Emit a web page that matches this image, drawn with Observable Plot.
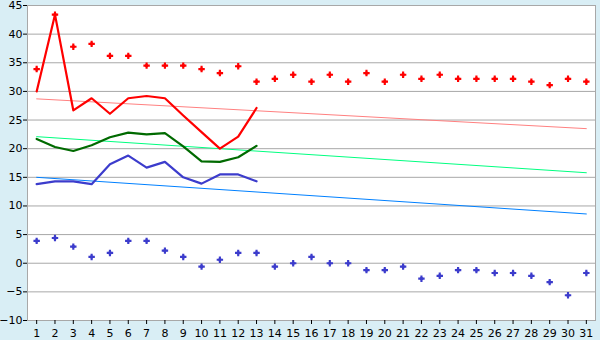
<!DOCTYPE html>
<html>
<head>
<meta charset="utf-8">
<script src="https://cdn.jsdelivr.net/npm/d3@7"></script>
<script src="https://cdn.jsdelivr.net/npm/@observablehq/plot@0.6"></script>
<style>
  html, body { margin: 0; padding: 0; background: #d9eef5; }
  #chart svg { display: block; background: transparent; }
</style>
</head>
<body>
<div id="chart"></div>
<script>
const days = [1,2,3,4,5,6,7,8,9,10,11,12,13,14,15,16,17,18,19,20,21,22,23,24,25,26,27,28,29,30,31];
const maxTemp = [33.9,43.4,37.8,38.3,36.2,36.2,34.5,34.5,34.5,33.9,33.2,34.4,31.7,32.2,32.9,31.7,32.9,31.7,33.2,31.7,32.9,32.2,32.9,32.2,32.2,32.2,32.2,31.7,31.1,32.2,31.7];
const minTemp = [3.9,4.4,2.9,1.1,1.8,3.9,3.9,2.2,1.1,-0.6,0.6,1.8,1.8,-0.6,0.0,1.1,0.0,0.0,-1.2,-1.2,-0.6,-2.7,-2.2,-1.2,-1.2,-1.7,-1.7,-2.2,-3.3,-5.6,-1.7];
const redLine = [30.0,43.4,26.7,28.8,26.1,28.8,29.2,28.8,25.8,22.9,20.0,22.1,27.1];
const greenLine = [21.7,20.3,19.6,20.6,22.0,22.8,22.5,22.7,20.4,17.8,17.7,18.5,20.5];
const blueLine = [13.8,14.3,14.3,13.8,17.3,18.8,16.7,17.7,15.0,13.9,15.5,15.5,14.3];
const trendDays = [1, 31];
const redTrend = [28.7, 23.5];
const greenTrend = [22.1, 15.8];
const blueTrend = [15.0, 8.6];
const yTicks = [-10,-5,0,5,10,15,20,25,30,35,40,45];

const series = (vals, xs) => vals.map((v, i) => ({x: xs[i], y: v}));

const markers = (data, color) => [
  Plot.dot(data, {x: "x", y: "y", symbol: "cross", r: 2.7, fill: color, stroke: "none"}),
  Plot.dot(data, {x: "x", y: "y", symbol: "square", r: 1.6, fill: color, stroke: "none"})
];

const chart = Plot.plot({
  width: 600,
  height: 340,
  marginLeft: 27,
  marginRight: 5,
  marginTop: 5,
  marginBottom: 20,
  style: {fontFamily: "DejaVu Sans", fontSize: "11px", color: "#000", background: "transparent"},
  x: {domain: [0.5, 31.5], axis: null, label: null},
  y: {domain: [-10, 45], axis: null, label: null},
  marks: [
    Plot.frame({fill: "white", stroke: "#a8a8a8"}),
    Plot.gridY(yTicks, {stroke: "#a8a8a8", strokeOpacity: 1}),
    Plot.ruleX([0.5], {stroke: "#a8a8a8"}),
    Plot.axisY({ticks: yTicks, label: null, tickSize: 4, tickPadding: 1, stroke: "#000", tickFormat: d => d < 0 ? "\u2212" + Math.abs(d) : String(d)}),
    Plot.axisX({ticks: days, label: null, tickSize: 4, tickPadding: 5, stroke: "#000", tickFormat: d => String(d)}),
    Plot.line(series(redTrend, trendDays), {x: "x", y: "y", stroke: "#ff8080", strokeWidth: 1}),
    Plot.line(series(greenTrend, trendDays), {x: "x", y: "y", stroke: "#00ff80", strokeWidth: 1}),
    Plot.line(series(blueTrend, trendDays), {x: "x", y: "y", stroke: "#0080ff", strokeWidth: 1}),
    Plot.line(series(redLine, days), {x: "x", y: "y", stroke: "#ff0000", strokeWidth: 2.2}),
    Plot.line(series(greenLine, days), {x: "x", y: "y", stroke: "#006a00", strokeWidth: 2.2}),
    Plot.line(series(blueLine, days), {x: "x", y: "y", stroke: "#3c3ccc", strokeWidth: 2.2}),
    ...markers(series(maxTemp, days), "#ff0000"),
    ...markers(series(minTemp, days), "#3c3ccc")
  ]
});
document.getElementById("chart").appendChild(chart);
</script>
</body>
</html>
